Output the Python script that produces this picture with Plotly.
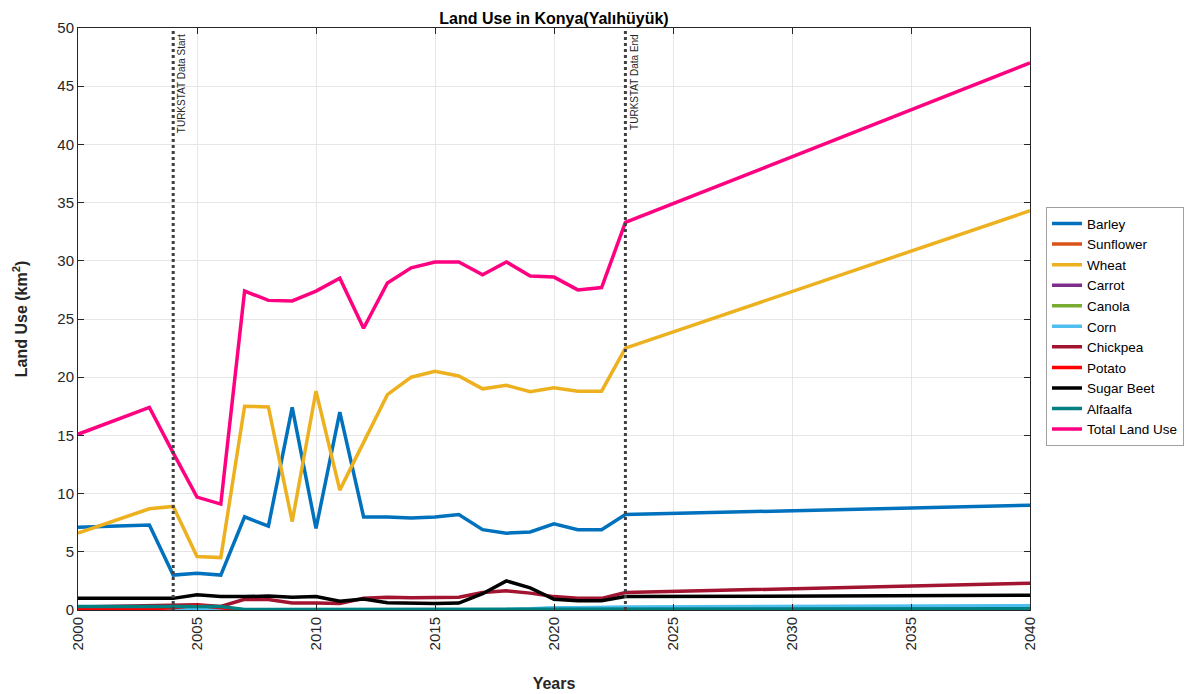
import plotly.graph_objects as go

years = [2000, 2003, 2004, 2005, 2006, 2007, 2008, 2009, 2010, 2011, 2012, 2013,
         2014, 2015, 2016, 2017, 2018, 2019, 2020, 2021, 2022, 2023, 2040]

barley = [7.1, 7.3, 3.0, 3.15, 3.0, 8.0, 7.2, 17.4, 7.0, 17.0, 8.0, 8.0,
          7.9, 8.0, 8.2, 6.9, 6.6, 6.7, 7.4, 6.9, 6.9, 8.2, 9.0]
sunflower = [0.0] * 23
wheat = [6.6, 8.7, 8.9, 4.6, 4.5, 17.5, 17.45, 7.6, 18.8, 10.3, 14.4, 18.5,
         20.0, 20.5, 20.1, 19.0, 19.3, 18.75, 19.1, 18.8, 18.8, 22.5, 34.3]
carrot = [0.0] * 23
canola = [0.0] * 23
corn = [0.0, 0.0, 0.0, 0.0, 0.0, 0.0, 0.0, 0.0, 0.0, 0.0, 0.0, 0.0,
        0.0, 0.0, 0.0, 0.0, 0.05, 0.1, 0.2, 0.2, 0.2, 0.25, 0.37]
chickpea = [0.25, 0.35, 0.4, 0.45, 0.3, 0.92, 0.9, 0.6, 0.6, 0.55, 1.0, 1.1,
            1.05, 1.05, 1.1, 1.5, 1.65, 1.45, 1.15, 1.0, 1.0, 1.5, 2.3]
potato = [0.05, 0.1, 0.2, 0.4, 0.2, 0.0, 0.0, 0.0, 0.0, 0.0, 0.0, 0.0,
          0.0, 0.0, 0.0, 0.0, 0.0, 0.0, 0.0, 0.0, 0.0, 0.0, 0.0]
sugar_beet = [1.0, 1.0, 1.0, 1.3, 1.15, 1.15, 1.2, 1.1, 1.15, 0.75, 0.95, 0.63,
              0.57, 0.55, 0.6, 1.4, 2.5, 1.9, 0.92, 0.8, 0.8, 1.15, 1.26]
alfaalfa = [0.3, 0.3, 0.3, 0.35, 0.3, 0.05, 0.05, 0.05, 0.05, 0.05, 0.05, 0.05,
            0.05, 0.05, 0.05, 0.05, 0.05, 0.05, 0.05, 0.05, 0.05, 0.1, 0.1]
total = [15.1, 17.4, 13.5, 9.7, 9.1, 27.4, 26.6, 26.55, 27.4, 28.5, 24.2, 28.1,
         29.4, 29.9, 29.9, 28.8, 29.9, 28.7, 28.6, 27.5, 27.7, 33.3, 47.0]

series = [
    ("Barley", barley, "#0072BD"),
    ("Sunflower", sunflower, "#D95319"),
    ("Wheat", wheat, "#EDB120"),
    ("Carrot", carrot, "#7E2F8E"),
    ("Canola", canola, "#77AC30"),
    ("Corn", corn, "#4DBEEE"),
    ("Chickpea", chickpea, "#A2142F"),
    ("Potato", potato, "#FF0000"),
    ("Sugar Beet", sugar_beet, "#000000"),
    ("Alfaalfa", alfaalfa, "#008080"),
    ("Total Land Use", total, "#FF0080"),
]

data_start = 2004
data_end = 2023

fig = go.Figure()
for name, vals, col in series:
    fig.add_trace(go.Scatter(x=years, y=vals, mode="lines", name=name,
                             line=dict(color=col, width=3.5)))

for xv, label in [(data_start, "TURKSTAT Data Start"), (data_end, "TURKSTAT Data End")]:
    fig.add_vline(x=xv, line=dict(color="#404040", width=3, dash="dot"))
    fig.add_annotation(x=xv, y=1, xref="x", yref="paper", text=label, textangle=-90,
                       showarrow=False, xanchor="left", yanchor="top", xshift=1, yshift=-4,
                       font=dict(size=10, color="#262626"))

axis_font = dict(family="Liberation Sans, Arial, sans-serif", size=15, color="#262626")
fig.update_layout(
    width=1196, height=694,
    margin=dict(l=78, r=164, t=28, b=84),
    plot_bgcolor="white", paper_bgcolor="white",
    font=dict(family="Liberation Sans, Arial, sans-serif", color="#262626"),
    title=dict(text="<b>Land Use in Konya(Yalıhüyük)</b>", x=0.4632, xanchor="center",
               y=0.974, yanchor="middle", font=dict(size=16, color="#000000")),
    legend=dict(x=1.0168, y=0.692, xanchor="left", yanchor="top", bgcolor="white",
                bordercolor="#A0A0A0", borderwidth=1, font=dict(size=13.5, color="#000000"),
                tracegroupgap=0, itemwidth=30),
    showlegend=True,
)
fig.update_xaxes(range=[2000, 2040], dtick=5, tick0=2000, tickangle=-90, automargin=False,
                 showgrid=True, gridcolor="#E6E6E6", zeroline=False,
                 showline=True, linecolor="#262626", linewidth=1, mirror="ticks",
                 ticks="inside", ticklen=6, tickcolor="#262626", tickfont=axis_font,
                 title=dict(text="<b>Years</b>", font=dict(size=16, color="#262626"), standoff=28))
fig.update_yaxes(range=[0, 50], dtick=5, automargin=False,
                 showgrid=True, gridcolor="#E6E6E6", zeroline=False,
                 showline=True, linecolor="#262626", linewidth=1, mirror="ticks",
                 ticks="inside", ticklen=6, tickcolor="#262626", tickfont=axis_font,
                 title=dict(text="<b>Land Use (km<sup>2</sup>)</b>", font=dict(size=16, color="#262626"),
                            standoff=25))

# page has a default 8px body margin; drop it so the figure fills the window
fig.write_html("out.html", config={"displayModeBar": False},
               post_script="document.body.style.margin='0';")
